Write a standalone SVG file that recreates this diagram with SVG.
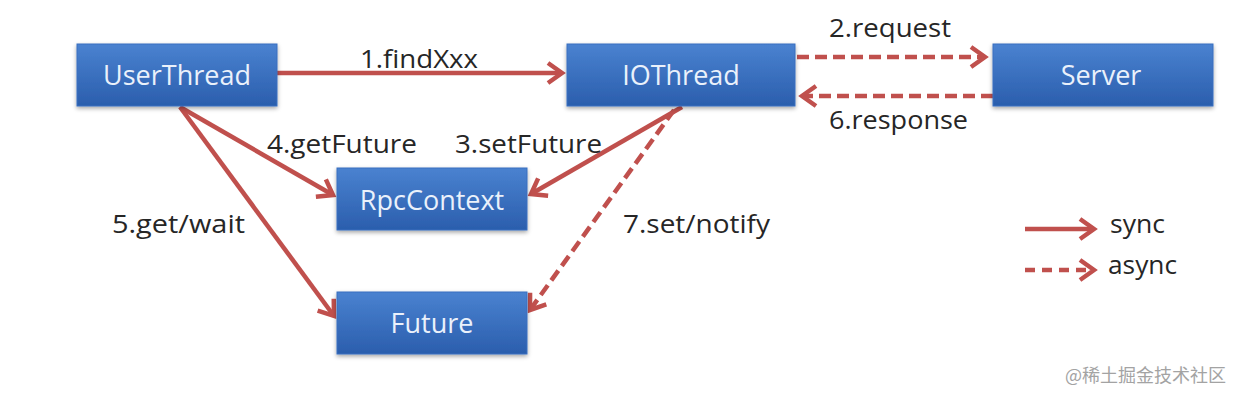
<svg xmlns="http://www.w3.org/2000/svg" width="1240" height="400" viewBox="0 0 1240 400">
<style>
.box{fill:url(#bg);stroke:#3a6fbf;stroke-width:1;filter:url(#sh)}
.bt{font-family:"Open Sans","Liberation Sans",sans-serif;font-size:27px;fill:#eaf1fb;text-anchor:middle}
.lb{font-family:"Open Sans","Liberation Sans",sans-serif;font-size:26px;fill:#262626}
.ln{fill:none;stroke:#c0504d;stroke-width:4.5;marker-end:url(#ah)}
.ds{stroke-dasharray:12 6}
.wm{font-family:"Noto Sans CJK SC","Open Sans",sans-serif;font-size:18px;fill:#a3a3a3}
</style>
<defs>
<linearGradient id="bg" x1="0" y1="0" x2="0" y2="1">
<stop offset="0" stop-color="#4a82d0"/>
<stop offset="1" stop-color="#2b5ead"/>
</linearGradient>
<filter id="sh" x="-10%" y="-20%" width="120%" height="150%">
<feDropShadow dx="0" dy="2" stdDeviation="2" flood-color="#000" flood-opacity="0.35"/>
</filter>
<marker id="ah" viewBox="-20 -14 24 28" markerWidth="24" markerHeight="28" refX="0" refY="0" orient="auto" markerUnits="userSpaceOnUse">
<path d="M-14,-10 L0,0 L-14,10" fill="none" stroke="#c0504d" stroke-width="4.5"/>
</marker>
</defs>
<rect width="1240" height="400" fill="#fff"/>

<g id="connectors">
<line class="ln" x1="277" y1="73" x2="562" y2="73"/>
<line class="ln ds" x1="797" y1="57" x2="985" y2="57"/>
<line class="ln ds" x1="993" y1="96" x2="802" y2="96"/>
<line class="ln" x1="180" y1="107" x2="333" y2="195"/>
<line class="ln" x1="180" y1="107" x2="334" y2="316"/>
<line class="ln" x1="682" y1="107" x2="531" y2="194"/>
<line class="ln ds" x1="674" y1="110" x2="530" y2="310"/>
<line class="ln" x1="1025" y1="229" x2="1094" y2="229"/>
<line class="ln ds" x1="1025" y1="270" x2="1094" y2="270" style="stroke-dasharray:10 7"/>
</g>

<g id="labels">
<text class="lb" x="360" y="68" textLength="118" lengthAdjust="spacingAndGlyphs">1.findXxx</text>
<text class="lb" x="829" y="37" textLength="122" lengthAdjust="spacingAndGlyphs">2.request</text>
<text class="lb" x="829" y="129" textLength="139" lengthAdjust="spacingAndGlyphs">6.response</text>
<text class="lb" x="267" y="153" textLength="150" lengthAdjust="spacingAndGlyphs">4.getFuture</text>
<text class="lb" x="455" y="153" textLength="147" lengthAdjust="spacingAndGlyphs">3.setFuture</text>
<text class="lb" x="112" y="233" textLength="133" lengthAdjust="spacingAndGlyphs">5.get/wait</text>
<text class="lb" x="623" y="233" textLength="147" lengthAdjust="spacingAndGlyphs">7.set/notify</text>
<text class="lb" x="1110" y="233" textLength="55" lengthAdjust="spacingAndGlyphs">sync</text>
<text class="lb" x="1108" y="274" textLength="69" lengthAdjust="spacingAndGlyphs">async</text>
</g>

<g id="UserThread">
<rect class="box" x="77" y="44" width="200" height="62"/>
<text class="bt" x="177" y="85">UserThread</text>
</g>
<g id="IOThread">
<rect class="box" x="567" y="44" width="228" height="62"/>
<text class="bt" x="681" y="85">IOThread</text>
</g>
<g id="Server">
<rect class="box" x="993" y="44" width="220" height="62"/>
<text class="bt" x="1101" y="85">Server</text>
</g>
<g id="RpcContext">
<rect class="box" x="337" y="168" width="190" height="62"/>
<text class="bt" x="432" y="210">RpcContext</text>
</g>
<g id="Future">
<rect class="box" x="337" y="292" width="190" height="62"/>
<text class="bt" x="432" y="333">Future</text>
</g>

<text class="wm" x="1065" y="382">@稀土掘金技术社区</text>
</svg>
